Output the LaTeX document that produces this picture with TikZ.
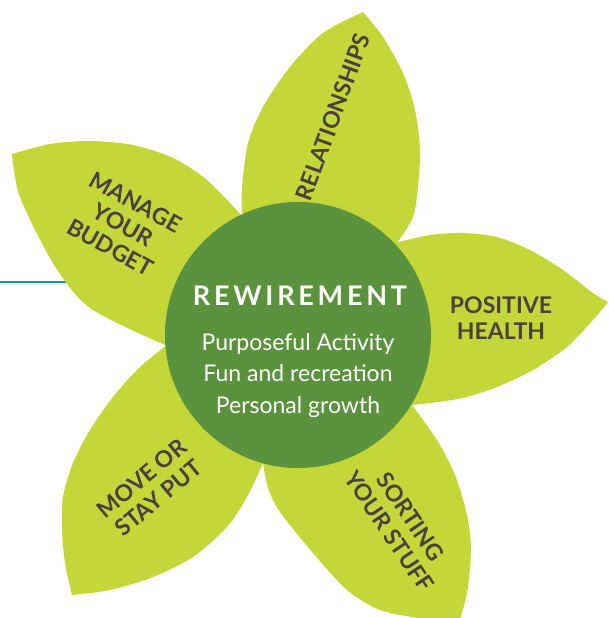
\documentclass[tikz,border=0pt]{standalone}
\usepackage{fontspec}
\setmainfont{Lato}
\newfontfamily\hubfont[LetterSpace=14]{Lato}
\definecolor{leafGreen}{RGB}{195,216,56}
\definecolor{hubGreen}{RGB}{91,146,61}
\definecolor{labelBrown}{RGB}{75,64,62}
\definecolor{lineTeal}{RGB}{22,150,168}

\begin{document}
\begin{tikzpicture}[x=1pt, y=-1pt,
    petal/.style={fill=leafGreen},
    hub/.style={circle, fill=hubGreen, minimum size=266pt, inner sep=0pt},
    hubtitle/.style={text=white, font=\hubfont\fontsize{27}{30}\selectfont\bfseries, inner sep=0pt},
    hubtext/.style={text=white, font=\fontsize{23}{26}\selectfont, inner sep=0pt},
    leaflabel/.style={text=labelBrown, font=\fontsize{23}{26}\selectfont\bfseries, align=center, inner sep=0pt}]
  \useasboundingbox (0,0) rectangle (608,618);
  % teal rule, runs in behind the left petal
  \coordinate (rule west) at (0,282);
  \coordinate (rule east) at (100,282);
  \draw[lineTeal, line width=2.2pt] (rule west) -- (rule east);
  % petals, each closed through the hub centre
  \fill[petal] plot[smooth, tension=0.5] coordinates {(165,345) (90,308) (53,263) (20,197) (12,154)}
    -- plot[smooth, tension=0.5] coordinates {(12,154) (50,144) (90,141) (133,145) (173,158) (207,180) (243,217)}
    -- (298,335) -- cycle;
  \fill[petal] plot[smooth, tension=0.5] coordinates {(242,213) (242,187) (248,143) (263,107) (290,67) (323,33) (363,12)}
    -- plot[smooth, tension=0.5] coordinates {(363,12) (383,37) (403,73) (415,110) (420,150) (418,187) (413,217) (397,243)}
    -- (298,335) -- cycle;
  \fill[petal] plot[smooth, tension=0.5] coordinates {(395,243) (430,235) (463,233) (497,237) (530,250) (563,270) (593,293) (608,302)}
    -- plot[smooth, tension=0.5] coordinates {(608,302) (593,320) (567,347) (533,370) (497,387) (463,398) (430,403) (412,405)}
    -- (298,335) -- cycle;
  \fill[petal] plot[smooth, tension=0.5] coordinates {(412,405) (437,440) (455,475) (467,515) (471,550) (467,593) (458,626)}
    -- plot[smooth, tension=0.5] coordinates {(458,626) (423,619) (380,610) (347,590) (313,553) (280,512) (268,488) (263,463)}
    -- (298,335) -- cycle;
  \fill[petal] plot[smooth, tension=0.5] coordinates {(263,463) (260,470) (247,497) (227,527) (193,557) (153,577) (110,590) (72,595)}
    -- plot[smooth, tension=0.5] coordinates {(72,595) (65,563) (62,530) (63,497) (73,463) (90,430) (113,397) (140,367) (167,345)}
    -- (298,335) -- cycle;
  % hub
  \node[hub] (hub) at (298,335) {};
  \node[hubtitle, anchor=base] (title) at (300,305) {REWIREMENT};
  \foreach \aim [count=\i] in {Purposeful Activity, Fun and recreation, Personal growth}
    \node[hubtext, anchor=base] (aim\i) at (298,318.5+31.7*\i) {\aim};
  % petal labels
  \node[leaflabel, rotate=70] (relations) at (333,117) {RELATIONSHIPS};
  \node[leaflabel, rotate=-29] (budget) at (123,225) {MANAGE\\YOUR\\BUDGET};
  \node[leaflabel] (health) at (501,318) {POSITIVE\\HEALTH};
  \node[leaflabel, rotate=-56] (stuff) at (400,524) {SORTING\\YOUR STUFF};
  \node[leaflabel, rotate=40] (move) at (150,488) {MOVE OR\\STAY PUT};
\end{tikzpicture}
\end{document}
